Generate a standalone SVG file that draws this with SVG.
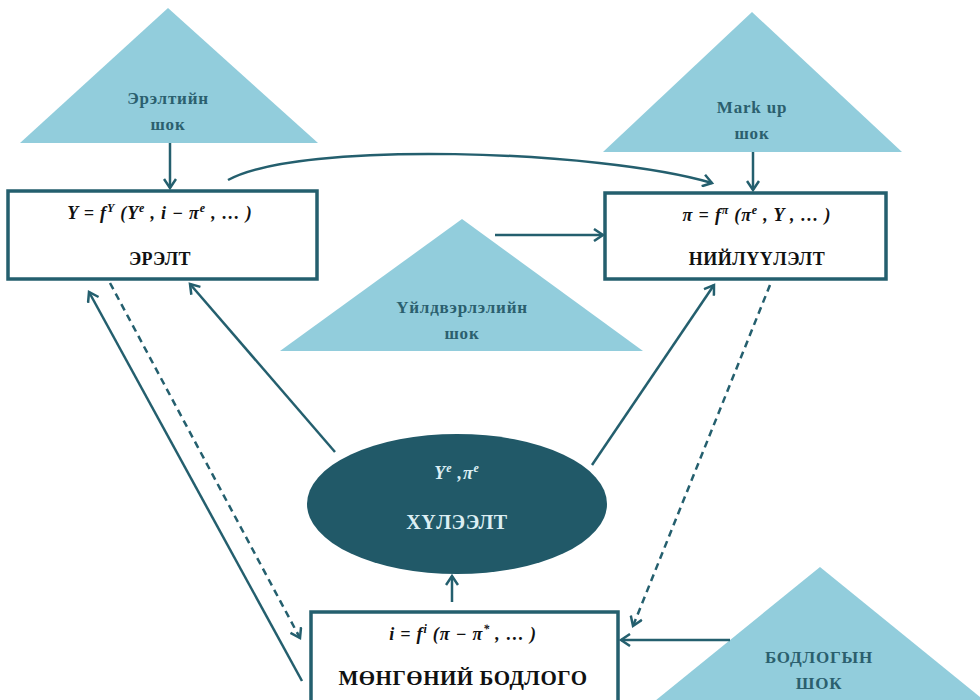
<svg xmlns="http://www.w3.org/2000/svg" width="980" height="700" viewBox="0 0 980 700">
<style>
.tri{fill:#92CDDC;stroke:none}
.box{fill:#ffffff;stroke:#245F6E;stroke-width:3.5}
.ln{fill:none;stroke:#245F6E;stroke-width:2.5;marker-end:url(#ah)}
.dash{stroke-dasharray:7 5}
.tt{font-family:"Liberation Serif",serif;font-weight:bold;font-size:17px;letter-spacing:0.8px;fill:#2B5F6E;text-anchor:middle}
.fm{font-family:"Liberation Serif",serif;font-weight:bold;font-style:italic;font-size:18px;letter-spacing:0.8px;fill:#111;text-anchor:middle}
.lb{font-family:"Liberation Serif",serif;font-weight:bold;font-size:18px;letter-spacing:0.5px;fill:#111;text-anchor:middle}
.sp{font-size:12px}
.wh{fill:#DCEEF3}
</style>
<defs>
<marker id="ah" markerWidth="14" markerHeight="14" refX="11" refY="7" orient="auto" markerUnits="userSpaceOnUse">
<path d="M2,1 L11,7 L2,13" fill="none" stroke="#245F6E" stroke-width="2.5"/>
</marker>
</defs>

<g id="shock-demand">
<polygon class="tri" points="168,8 318,143 20,143"/>
<text class="tt" x="168" y="104">Эрэлтийн</text>
<text class="tt" x="168" y="130">шок</text>
</g>
<g id="shock-markup">
<polygon class="tri" points="752,12 902,152 603,152"/>
<text class="tt" x="752" y="113">Mark up</text>
<text class="tt" x="752" y="139">шок</text>
</g>
<g id="shock-production">
<polygon class="tri" points="462,219 643,351 280,351"/>
<text class="tt" x="462" y="313">Үйлдвэрлэлийн</text>
<text class="tt" x="462" y="339">шок</text>
</g>
<g id="shock-policy">
<polygon class="tri" points="820,567 990,705 650,705"/>
<text class="tt" x="819" y="663">БОДЛОГЫН</text>
<text class="tt" x="819" y="689">ШОК</text>
</g>

<g id="demand">
<rect class="box" x="8" y="191" width="309" height="88"/>
<text class="fm" x="160" y="219" xml:space="preserve">Y = f<tspan class="sp" dy="-7">Y</tspan><tspan dy="7"> (Y</tspan><tspan class="sp" dy="-7">e</tspan><tspan dy="7"> , i − π</tspan><tspan class="sp" dy="-7">e</tspan><tspan dy="7"> , … )</tspan></text>
<text class="lb" x="160" y="265">ЭРЭЛТ</text>
</g>
<g id="supply">
<rect class="box" x="605" y="193" width="281" height="86"/>
<text class="fm" x="757" y="221" xml:space="preserve">π = f<tspan class="sp" dy="-7">π</tspan><tspan dy="7"> (π</tspan><tspan class="sp" dy="-7">e</tspan><tspan dy="7"> , Y , … )</tspan></text>
<text class="lb" x="757" y="265">НИЙЛҮҮЛЭЛТ</text>
</g>
<g id="expectation">
<ellipse cx="457" cy="504" rx="150" ry="70" fill="#215968"/>
<text class="fm wh" x="457" y="479">Y<tspan class="sp" dy="-7">e</tspan><tspan dy="7"> ,π</tspan><tspan class="sp" dy="-7">e</tspan></text>
<text class="lb wh" x="457" y="529" style="font-size:20px">ХҮЛЭЭЛТ</text>
</g>
<g id="policy">
<rect class="box" x="311" y="612" width="307" height="100"/>
<text class="fm" x="463" y="640" xml:space="preserve">i = f<tspan class="sp" dy="-7">i</tspan><tspan dy="7"> (π − π</tspan><tspan class="sp" dy="-7">*</tspan><tspan dy="7"> , … )</tspan></text>
<text class="lb" x="463" y="685" style="font-size:21px">МӨНГӨНИЙ БОДЛОГО</text>
</g>

<g id="connectors">
<line class="ln" x1="170" y1="143" x2="170" y2="188"/>
<line class="ln" x1="753" y1="152" x2="753" y2="190"/>
<path class="ln" d="M228,180 C300,140 600,150 712,183"/>
<line class="ln" x1="495" y1="235" x2="603" y2="235"/>
<line class="ln" x1="335" y1="452" x2="190" y2="284"/>
<line class="ln" x1="592" y1="465" x2="714" y2="285"/>
<line class="ln dash" x1="110" y1="283" x2="300" y2="638"/>
<line class="ln" x1="302" y1="681" x2="89" y2="292"/>
<line class="ln dash" x1="770" y1="285" x2="633" y2="626"/>
<line class="ln" x1="730" y1="640" x2="621" y2="640"/>
<line class="ln" x1="452" y1="602" x2="452" y2="576"/>
</g>
</svg>
